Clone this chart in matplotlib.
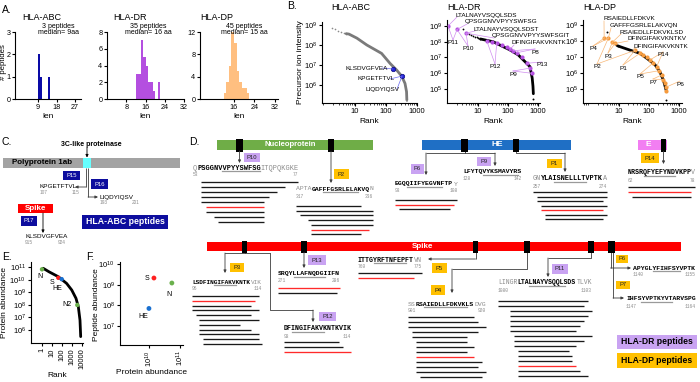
import numpy as np
import matplotlib.pyplot as plt
from matplotlib.patches import Rectangle
from matplotlib.ticker import LogLocator, NullLocator, NullFormatter

plt.rcParams["font.family"] = ["Liberation Sans", "DejaVu Sans"]
plt.rcParams["mathtext.fontset"] = "custom"
plt.rcParams["mathtext.rm"] = "Liberation Sans"

W, H = 700, 382

# ---------------- data ----------------
# A. peptide length histograms
abc_len = [9, 10, 14]
abc_n = [2, 1, 1]
dr_len = [12, 13, 14, 15, 16, 17, 18, 19, 21]
dr_n = [3, 3, 7, 5, 4, 2, 2, 1, 2]
dp_len = [12, 13, 14, 15, 16, 17, 18, 19, 20, 21]
dp_n = [1, 3, 6, 12, 10, 5, 3, 2, 2, 1]

# B. rank plots (rank, precursor intensity)
abc_dot_rank = [1.8, 2.3, 2.9, 3.5, 4.3, 5.2]
abc_dot_int = [6.8e8, 6.0e8, 5.3e8, 4.6e8, 4.1e8, 3.7e8]
abc_rank = [5.2, 6.4, 11.5, 24, 72, 135, 220, 320, 410, 460, 470]
abc_int = [3.7e8, 3.5e8, 2.2e8, 1.0e8, 3.8e7, 1.2e7, 5.6e6, 2.8e6, 1.2e6, 4.6e5, 1.8e5]
abc_hit_rank = [168, 330]
abc_hit_int = [6.3e6, 2.8e6]

dr_dot_rank = [3.2, 5, 6, 7, 8, 9, 10, 12]
dr_dot_int = [6.4e8, 3.2e8, 2.8e8, 2.4e8, 2.1e8, 1.9e8, 1.7e8, 1.5e8]
dr_rank = [12, 17, 32, 70, 117, 220, 370, 540, 640, 680, 700]
dr_int = [1.5e8, 1.3e8, 1.0e8, 4.8e7, 3.0e7, 1.45e7, 5.4e6, 2.6e6, 5e5, 1.5e5, 5e4]
dr_last = (700, 2.2e4)
dr_hit_rank = [1, 2, 4, 19.5, 28.5, 42, 61, 90, 117, 150, 195, 290, 420, 540, 610]
dr_hit_int = [1e9, 6e8, 3.5e8, 1.17e8, 1.0e8, 8e7, 6.2e7, 4.4e7, 3.3e7, 2.7e7, 2.0e7, 1.1e7, 4.3e6, 2.1e6, 1e6]

dp_dot_rank = [3.9, 8, 9]
dp_dot_int = [3.5e8, 5.5e7, 5e7]
dp_rank = [9, 10.8, 23, 50, 100, 160, 230, 300, 340, 370]
dp_int = [5e7, 4.4e7, 2.7e7, 1.7e7, 6.5e6, 3.2e6, 1.2e6, 3.7e5, 1.6e5, 8.7e4]
dp_last = (370, 2e4)
dp_hit_rank = [3.2, 4.4, 6, 7.4, 34, 50, 64, 84, 108, 133, 180, 220, 265, 300, 340, 370, 370]
dp_hit_int = [1.5e8, 1.5e8, 8.3e7, 7e7, 2.6e7, 1.7e7, 1.3e7, 9.5e6, 6.5e6, 4e6, 2.5e6, 1.4e6, 7.5e5, 3.7e5, 2.3e5, 1.3e5, 8e4]

# B. labels: (text, index of highlighted point it refers to)
abc_labels = [("KLSDVGFVEA", 0), ("KPGETFTVL", 1), ("LIQDYIQSV", 1)]
dr_labels = [("LTALNAYVSQQLSDS", 0), ("QPSGGNVVPYYSWFSG", 1), ("LTALNAYVSQQLSDST", 2),
             ("QPSGGNVVPYYSWFSGIT", 2), ("DFINGIFAKVKNTK", 8)]
dr_tags = [("P11", [0, 1]), ("P10", [1, 2]), ("P12", [3, 5]), ("P8", [9, 10]),
           ("P13", [12]), ("P9", [13, 14])]
dp_labels = [("RSAIEDLLFDKVK", 0), ("GAFFFGSRLELAKVQN", 1), ("RSAIEDLLFDKVKLSD", 2),
             ("DFINGIFAKVKNTKV", 3), ("DFINGIFAKVKNTK", 4)]
dp_tags = [("P4", [0, 1]), ("P3", [2, 3]), ("P2", [1, 4]), ("P1", [4, 5]),
           ("P14", [8, 10]), ("P5", [9, 11]), ("P7", [12, 13]), ("P6", [15])]

# E. protein abundance vs rank
e_rank = [1.3, 5, 43, 290, 940, 2500, 4300, 6300, 7400]
e_abund = [8e10, 4.2e10, 1.7e10, 5e9, 1.5e9, 3.3e8, 7e7, 6e6, 3e5]
e_names = ["N", "S", "HE", "N2"]
e_hit_rank = [1, 43, 93, 3400]
e_hit_abund = [6.6e10, 1.4e10, 1.1e10, 9.7e7]

# F. peptide vs protein abundance
f_names = ["S", "N", "HE"]
f_protein = [1.45e10, 5.5e10, 1.0e10]
f_peptide = [2.1e9, 1.2e9, 7e7]

# C. HLA-ABC peptides
c_peptides = ["KPGETFTVL", "LIQDYIQSV", "KLSDVGFVEA"]
c_ranges = [(107, 115), (193, 201), (915, 924)]
c_tags = ["P15", "P16", "P17"]

# D. peptide clusters: first residue, flanking/core sequence, underlined core, peptides
blk_first = {"N1": 53, "N2": 317, "HE1": 93, "HE2": 128, "P1": 257, "E": 62,
             "S3": 96, "S13": 271, "S12": 98, "S5": 760, "S4": 901, "S11": 1080,
             "S6": 1140, "S7": 1147}
blk_seq = {
    "N1": ("Q", "PSGGNVVPYYSWFSG", "ITQPQKGKE"),
    "N2": ("APTA", "GAFFFGSRLELAKVQ", "N"),
    "HE1": ("", "EGQQIIFYEGVNFTP", "Y"),
    "HE2": ("", "LFYTQVYKSMAVYRS", ""),
    "P1": ("GN", "YLAISNELLLTVPTK", "A"),
    "E": ("", "NRSRQFYEFYNDVKPP", "V"),
    "S3": ("", "LSDFINGIFAKVKNTK", "VIK"),
    "S13": ("", "SRQYLLAFNQDGIIFN", ""),
    "S12": ("", "DFINGIFAKVKNTKVIK", ""),
    "S5": ("", "ITTGYRFTNFEPFT", "VN"),
    "S4": ("SS", "RSAIEDLLFDKVKLS", "DVG"),
    "S11": ("LINGR", "LTALNAYVSQQLSDS", "TLVK"),
    "S6": ("", "APYGLYFIHFSYVPTK", ""),
    "S7": ("", "IHFSYVPTKYVTARVSPG", ""),
}
blk_core = {"N1": (7, 16), "N2": (7, 16), "HE1": (3, 12), "HE2": (5, 14), "P1": (5, 13),
            "E": (4, 12), "S3": (6, 12), "S13": (4, 12), "S12": (2, 10), "S5": (4, 12),
            "S4": (4, 15), "S11": (8, 17), "S6": (5, 12), "S7": (4, 12)}
blk_peps = {
    "N1": [(55, 77), (55, 74), (55, 72), (55, 70), (55, 69), (56, 69), (56, 69), (58, 69), (59, 69)],
    "N2": [(317, 333), (317, 336), (318, 336), (320, 336), (321, 336), (321, 335), (321, 333)],
    "HE1": [(93, 108), (93, 107), (94, 106)],
    "HE2": [],
    "P1": [(257, 274), (258, 274), (258, 273), (259, 274), (259, 273), (260, 274), (260, 273)],
    "E": [(62, 78), (62, 77), (63, 77)],
    "S3": [(96, 113), (96, 112), (96, 111), (96, 113), (97, 111), (98, 113), (98, 108),
           (98, 111), (98, 113), (99, 113), (99, 114)],
    "S13": [(271, 286), (271, 285)],
    "S12": [(98, 111), (98, 112), (98, 114)],
    "S5": [(760, 775), (760, 773)],
    "S4": [(901, 917), (901, 918), (901, 920), (902, 918), (902, 915), (903, 915), (903, 917),
           (903, 915), (903, 917), (903, 919), (903, 918), (903, 920), (904, 919)],
    "S11": [(1080, 1102), (1080, 1101), (1083, 1103), (1083, 1102), (1083, 1101), (1083, 1100),
            (1083, 1099), (1084, 1103), (1084, 1101), (1084, 1099), (1085, 1097), (1085, 1098),
            (1085, 1098), (1085, 1099), (1085, 1100), (1085, 1102)],
    "S6": [],
    "S7": [],
}
blk_red = {"N1": 5, "N2": 5, "HE1": 1, "P1": 4, "E": 1, "S3": 1, "S13": 0, "S12": 2,
           "S5": 1, "S4": 8, "S11": 13}

# ---------------- layout (pixels, y down) ----------------
ABC_COL = "#0a0aa6"
DR_COL = "#b44fe0"
DP_COL = "#ffbf80"
TAG_DR = "#c9a3f2"
TAG_DP = "#ffc000"

# x0, y_text, char width, y first line, line step
blk_pos = {
    "N1": (193, 168, 4.2, 182, 5.0), "N2": (296, 189, 3.85, 206, 4.7),
    "HE1": (395, 184, 3.9, 200, 4.5), "HE2": (463, 172, 3.9, 0, 0),
    "P1": (533, 179, 4.1, 192, 4.5), "E": (628, 173, 3.95, 187, 5.2),
    "S3": (192, 282, 3.7, 296, 4.8), "S13": (278, 274, 3.9, 288, 4.5),
    "S12": (284, 329, 3.95, 342, 5.0), "S5": (358, 260, 4.0, 273, 5.0),
    "S4": (408, 304, 3.9, 317, 5.0), "S11": (498, 283, 3.92, 301, 5.0),
    "S6": (633, 268, 3.9, 0, 0), "S7": (626, 299, 3.85, 0, 0),
}

fig = plt.figure(figsize=(7, 3.82), dpi=100)


def axpx(x0, y0, x1, y1):
    return fig.add_axes([x0 / W, 1 - y1 / H, (x1 - x0) / W, (y1 - y0) / H])


def prism(ax, fs=5.5):
    ax.patch.set_alpha(0)
    for s in ("top", "right"):
        ax.spines[s].set_visible(False)
    for s in ("left", "bottom"):
        ax.spines[s].set_linewidth(0.8)
    ax.tick_params(direction="out", length=2.5, width=0.8, labelsize=fs, pad=1.2)
    ax.tick_params(which="minor", direction="out", length=1.5, width=0.5)


# ---- A ----
hists = [
    (abc_len, abc_n, ABC_COL, (15, 32, 81, 99), (-2.3, 29.9), [9, 18, 27], 3, [0, 1, 2, 3]),
    (dr_len, dr_n, DR_COL, (107, 32, 184, 99), (0, 32), [8, 16, 24, 32], 8, [0, 2, 4, 6, 8]),
    (dp_len, dp_n, DP_COL, (200, 32, 278, 99), (2.7, 33.2), [16, 24, 32], 12, [0, 4, 8, 12]),
]
for lens, cnt, col, box, xl, xt, ymax, yt in hists:
    ax = axpx(*box)
    ax.bar(lens, cnt, width=1, align="edge", color=col, edgecolor="none")
    ax.set_xlim(*xl)
    ax.set_xticks(xt)
    ax.set_ylim(0, ymax)
    ax.set_yticks(yt)
    prism(ax, 5.2)
    ax.tick_params(axis="y", pad=0.8)
    ax.set_xlabel("len", fontsize=6, labelpad=1)

# ---- B ----
def logax(box, xlim, ylim, yt):
    ax = axpx(*box)
    ax.set_xscale("log")
    ax.set_yscale("log")
    ax.set_xlim(*xlim)
    ax.set_ylim(*ylim)
    ax.set_xticks([10, 100, 1000])
    ax.set_xticklabels(["10", "100", "1000"])
    ax.xaxis.set_minor_locator(LogLocator(base=10, subs=np.arange(2, 10)))
    ax.xaxis.set_minor_formatter(NullFormatter())
    ax.set_yticks(yt)
    ax.yaxis.set_minor_locator(NullLocator())
    prism(ax)
    ax.set_xlabel("Rank", fontsize=6, labelpad=2)
    return ax


bA = logax((322, 22, 417, 103), (0.86, 1000), (10 ** 5.1, 10 ** 9.15), [1e6, 1e7, 1e8, 1e9])
bA.plot(abc_dot_rank, abc_dot_int, "o", color="#8a8a8a", ms=1.2, mew=0)
bA.plot(abc_rank, abc_int, color="#7a7a7a", lw=2.0, solid_capstyle="round")
bA.plot([470, 470], [1.8e5, 1.3e5], color="#8a8a8a", lw=1.2, ls=":")
bA.plot(abc_hit_rank, abc_hit_int, "o", color="#2424d8", mec="#0a0a80", ms=3.2, mew=0.5)

bR = logax((447, 20, 540, 103), (10 ** (-1 / 30), 10 ** (92 / 30)), (10 ** 4.11, 10 ** 9.38),
           [1e5, 1e6, 1e7, 1e8, 1e9])
bR.plot(dr_dot_rank, dr_dot_int, "o", color="k", ms=1.3, mew=0)
bR.plot(dr_rank, dr_int, color="k", lw=2.0, solid_capstyle="round")
bR.plot(*dr_last, "o", color="k", ms=1.4, mew=0)
bR.plot(dr_hit_rank, dr_hit_int, "o", color=DR_COL, ms=3.0, mew=0)

bP = logax((583, 20, 682, 103), (10 ** (-6 / 30), 10 ** (93 / 30)), (10 ** 4.125, 10 ** 9.31),
           [1e5, 1e6, 1e7, 1e8, 1e9])
bP.plot(dp_dot_rank, dp_dot_int, "o", color="k", ms=1.4, mew=0)
bP.plot(dp_rank, dp_int, color="k", lw=2.0, solid_capstyle="round")
bP.plot(*dp_last, "o", color="k", ms=1.4, mew=0)
bP.plot(dp_hit_rank, dp_hit_int, "o", color="#f59a3c", ms=3.0, mew=0)

# ---- E ----
eax = axpx(31, 262, 83, 343)
eax.set_xscale("log")
eax.set_yscale("log")
eax.set_xlim(10 ** -1.1, 10 ** 4.1)
eax.set_ylim(10 ** 4.97, 10 ** 11.4)
eax.plot(e_rank, e_abund, color="k", lw=2.0, solid_capstyle="round")
e_cols = ["#6ab04c", "#ff2020", "#1a70d0", "#6ab04c"]
eax.scatter(e_hit_rank, e_hit_abund, s=10, c=e_cols, zorder=3, linewidths=0)
eax.set_xticks([1, 10, 100, 1000, 10000])
eax.set_xticklabels(["1", "10", "100", "1000", "10000"], rotation=90)
eax.xaxis.set_minor_locator(NullLocator())
eax.set_yticks([1e6, 1e7, 1e8, 1e9, 1e10, 1e11])
eax.yaxis.set_minor_locator(NullLocator())
prism(eax)
eax.set_xlabel("Rank", fontsize=6, labelpad=2)

fax = axpx(120, 262, 183, 345)
fax.set_xscale("log")
fax.set_yscale("log")
fax.set_xlim(10 ** 9.065, 10 ** 11.1)
fax.set_ylim(10 ** 6.07, 10 ** 10.1)
fax.scatter(f_protein, f_peptide, s=12, c=["#ff2020", "#6ab04c", "#1a70d0"], linewidths=0)
fax.set_xticks([1e10, 1e11])
for lab in fax.get_xticklabels():
    lab.set_rotation(90)
fax.xaxis.set_minor_locator(NullLocator())
fax.set_yticks([1e7, 1e8, 1e9, 1e10])
fax.yaxis.set_minor_locator(NullLocator())
prism(fax)
fax.set_xlabel("Protein abundance", fontsize=6, labelpad=2)

# ---- overlay (pixel coordinates) ----
ov = fig.add_axes([0, 0, 1, 1])
ov.set_xlim(0, W)
ov.set_ylim(H, 0)
ov.axis("off")


def to_px(ax, x, y):
    dx, dy = ax.transData.transform((x, y))
    return dx, H - dy


def txt(x, y, s, fs=5, **kw):
    kw.setdefault("va", "center")
    ov.text(x, y, s, fontsize=fs, **kw)


def rect(x0, y0, x1, y1, fc, z=2):
    ov.add_patch(Rectangle((x0, y0), x1 - x0, y1 - y0, fc=fc, ec="none", zorder=z))


def arrow_path(pts, color="#3c3c3c", lw=0.6):
    xs, ys = zip(*pts)
    if len(pts) > 2:
        ov.plot(xs[:-1], ys[:-1], color=color, lw=lw, solid_capstyle="butt")
    ov.annotate("", xy=pts[-1], xytext=pts[-2],
                arrowprops=dict(arrowstyle="-|>", color=color, lw=lw, mutation_scale=4,
                                shrinkA=0, shrinkB=0))


def tag(x0, y0, x1, y1, label, kind):
    fc = {"DR": TAG_DR, "DP": TAG_DP, "ABC": "#0d0d9e"}[kind]
    rect(x0, y0, x1, y1, fc, z=4)
    txt((x0 + x1) / 2, (y0 + y1) / 2, label, 4.2, ha="center", zorder=5,
        color="white" if kind == "ABC" else "#222222")


# panel letters and titles
for lab, x, y in [("A.", 2, 10), ("B.", 287, 6), ("C.", 2, 142), ("D.", 189, 142),
                  ("E.", 2, 257), ("F.", 86, 257)]:
    txt(x, y, lab, 7.5)
for t, x in [("HLA-ABC", 22), ("HLA-DR", 113), ("HLA-DP", 200)]:
    txt(x, 18, t, 6.5)
for t, x in [("HLA-ABC", 331), ("HLA-DR", 447), ("HLA-DP", 583)]:
    txt(x, 7, t, 6.5)
for l1, l2, x in [("3 peptides", "median= 9aa", 58), ("35 peptides", "median= 16 aa", 148),
                  ("45 peptides", "median= 15 aa", 244)]:
    txt(x, 26, l1, 5, ha="center")
    txt(x, 32, l2, 5, ha="center")
txt(3.5, 62, "# peptides", 5.6, rotation=90, ha="center")
txt(301, 62, "Precursor ion intensity", 6, rotation=90, ha="center")
txt(5, 303, "Protein abundance", 6, rotation=90, ha="center")
txt(97, 305, "Peptide abundance", 6, rotation=90, ha="center")

# B labels with leader lines
ABC_LINE = "#6a6af0"
for (s, i), (x, y) in zip(abc_labels, [(345, 68), (358, 79), (365, 89)]):
    txt(x, y, s, 4.6)
    px, py = to_px(bA, abc_hit_rank[i], abc_hit_int[i])
    ov.plot([x + 37 if i == 0 else x + 32, px], [y, py], color=ABC_LINE, lw=0.5)

DR_LINE = "#d08ef0"
for (s, i), (x, y) in zip(dr_labels, [(455, 15), (465, 22), (473, 29), (492, 36), (512, 43)]):
    txt(x, y, s, 4.6)
    px, py = to_px(bR, dr_hit_rank[i], dr_hit_int[i])
    ov.plot([x + 2, px], [y + 2, py], color=DR_LINE, lw=0.5)
for (s, idx), (x, y) in zip(dr_tags, [(453, 43), (468, 49), (495, 67), (535, 52), (542, 65), (513, 74)]):
    txt(x, y, s, 4.6, ha="center")
    for i in idx:
        px, py = to_px(bR, dr_hit_rank[i], dr_hit_int[i])
        ov.plot([x, px], [y - 3, py], color=DR_LINE, lw=0.5)

DP_LINE = "#f8b878"
for (s, i), (x, y) in zip(dp_labels, [(603, 19), (610, 26), (620, 32), (627, 39), (633, 46)]):
    txt(x, y, s, 4.6)
    px, py = to_px(bP, dp_hit_rank[i], dp_hit_int[i])
    ov.plot([x + 1, px], [y + 2, py], color=DP_LINE, lw=0.5)
for (s, idx), (x, y) in zip(dp_tags, [(593, 49), (608, 56), (597, 67), (623, 68), (663, 55),
                                      (640, 77), (653, 82), (680, 84)]):
    txt(x, y, s, 4.6, ha="center")
    for i in idx:
        px, py = to_px(bP, dp_hit_rank[i], dp_hit_int[i])
        ov.plot([x, px], [y - 3, py], color=DP_LINE, lw=0.5)

# E / F point labels
for s, (x, y) in zip(e_names, [(40, 277), (52, 283), (57, 289), (67, 305)]):
    txt(x, y, s, 5, ha="center")
for s, (x, y) in zip(f_names, [(147, 279), (169, 294), (143, 317)]):
    txt(x, y, s, 5, ha="center")

# ---- C ----
txt(91, 145, "3C-like proteinase", 5.0, ha="center", weight="bold")
arrow_path([(87, 148), (87, 157.5)], color="k")
rect(3, 158, 180, 168, "#a3a3a3")
rect(83, 158, 91, 168, "#66ffff", z=3)
txt(12, 163, "Polyprotein 1ab", 5.8, weight="bold")
tag(63, 171, 80, 180, c_tags[0], "ABC")
tag(91, 179, 108, 189, c_tags[1], "ABC")
arrow_path([(86, 168), (86, 187), (75, 187)])
arrow_path([(88, 168), (88, 197), (98, 197)])
rect(18, 204, 53, 213, "#ff0000")
txt(35.5, 208.5, "Spike", 5.8, ha="center", weight="bold", color="white", zorder=5)
tag(21, 216, 37, 226, c_tags[2], "ABC")
arrow_path([(43, 213), (43, 233)], color="k")
for s, (a, b), (x, y, xe) in zip(c_peptides, c_ranges, [(40, 187, 72), (100, 197, 132), (25, 237, 58)]):
    txt(x, y, s, 4.6)
    txt(x, y + 5.5, str(a), 3.4, color="#8c8c8c")
    txt(xe, y + 5.5, str(b), 3.4, color="#8c8c8c")
rect(82, 215, 168, 229, "#0d0d9e")
txt(125, 222, "HLA-ABC peptides", 6.3, ha="center", weight="bold", color="white", zorder=5)

# ---- D: protein bars ----
rect(217, 140, 373, 150, "#6fad47")
for a, b in [(236, 243), (328, 334)]:
    rect(a, 138.5, b, 151.5, "black", z=3)
txt(290, 145, "Nucleoprotein", 5.5, ha="center", weight="bold", color="white", zorder=5)
rect(422, 140, 571, 150, "#1f6fc5")
for a, b in [(461, 468), (513, 519)]:
    rect(a, 138.5, b, 151.5, "black", z=3)
txt(497, 145, "HE", 6.0, ha="center", weight="bold", color="white", zorder=5)
rect(638, 140, 667, 150, "#f27ef2")
rect(661, 138.5, 666, 151.5, "black", z=3)
txt(648, 145, "E", 6.0, ha="center", weight="bold", color="white", zorder=5)
rect(207, 242, 681, 251, "#ff0000")
for a, b in [(242, 247), (301, 307), (473, 478), (524, 530), (588, 594), (608, 615)]:
    rect(a, 240.5, b, 252.5, "black", z=3)
txt(423, 246.5, "Spike", 5.8, ha="center", weight="bold", color="white", zorder=5)

# ---- D: tags and connectors ----
tag(244, 153, 260, 162, "P10", "DR")
arrow_path([(239.5, 151), (239.5, 163)])
tag(334, 169, 349, 179, "P2", "DP")
arrow_path([(331, 151), (331, 183)])
arrow_path([(464.5, 151), (464.5, 153), (426, 153), (426, 175)])
tag(411, 164, 424, 174, "P6", "DR")
tag(477, 157, 491, 166, "P9", "DR")
arrow_path([(464.5, 151), (464.5, 153), (495, 153), (495, 166)])
tag(547, 159, 562, 168, "P1", "DP")
arrow_path([(516, 151), (516, 153), (565, 153), (565, 172)])
tag(641, 153, 659, 163, "P14", "DP")
arrow_path([(663.5, 151), (663.5, 164)])

ov.plot([244.5, 244.5], [252, 253], color="#3c3c3c", lw=0.6)
ov.plot([225, 270], [253, 253], color="#3c3c3c", lw=0.6)
arrow_path([(225, 253), (225, 273)])
tag(230, 263, 244, 272, "P3", "DP")
arrow_path([(270, 253), (270, 310), (313, 310), (313, 322)])
tag(319, 312, 336, 321, "P12", "DR")
arrow_path([(304, 252), (304, 268)])
tag(308, 255, 326, 265, "P13", "DR")
arrow_path([(475.5, 252), (475.5, 259), (428, 259)])
tag(432, 263, 447, 273, "P5", "DP")
arrow_path([(527, 252), (527, 269), (452, 269), (452, 293)])
tag(431, 285, 445, 295, "P4", "DP")
arrow_path([(591, 252), (591, 258), (548, 258), (548, 277)])
tag(552, 264, 568, 274, "P11", "DR")
arrow_path([(610.5, 252), (610.5, 268), (631, 268)])
tag(616, 255, 628, 263, "P6", "DP")
arrow_path([(613, 252), (613, 298), (624, 298)])
tag(616, 281, 630, 289, "P7", "DP")

# ---- D: sequence blocks ----
for key, (x0, yt, cw, yl, dy) in blk_pos.items():
    first = blk_first[key]
    pre, core, post = blk_seq[key]
    n = len(pre + core + post)
    fs = cw / 0.6 * 0.72
    for piece, off, col, wt in [(pre, 0, "#8c8c8c", "normal"), (core, len(pre), "black", "bold"),
                                (post, len(pre) + len(core), "#8c8c8c", "normal")]:
        if piece:
            ov.text(x0 + off * cw, yt, piece, fontsize=fs, family="Liberation Mono", color=col,
                    weight=wt, va="center", ha="left")
    u0, u1 = blk_core[key]
    ov.plot([x0 + u0 * cw, x0 + u1 * cw], [yt + 3.0, yt + 3.0], color="#9a9a9a", lw=0.9)
    ov.text(x0, yt + 7, str(first), fontsize=3.3, color="#8c8c8c", va="center", ha="left",
            family="Liberation Mono")
    ov.text(x0 + n * cw, yt + 7, str(first + n - 1), fontsize=3.3, color="#8c8c8c",
            va="center", ha="right", family="Liberation Mono")
    for k, (s, e) in enumerate(blk_peps[key]):
        col = "#ff2a2a" if k == blk_red.get(key) else "#1a1a1a"
        ov.plot([x0 + (s - first) * cw, x0 + (e - first + 1) * cw], [yl + k * dy] * 2,
                color=col, lw=0.95, solid_capstyle="butt")

# ---- D: legend ----
rect(617, 335, 697, 349, TAG_DR)
txt(657, 342, "HLA-DR peptides", 6.2, ha="center", weight="bold", zorder=5)
rect(617, 353, 697, 368, TAG_DP)
txt(657, 360.5, "HLA-DP peptides", 6.2, ha="center", weight="bold", zorder=5)

fig.savefig("out.png", dpi=100)
